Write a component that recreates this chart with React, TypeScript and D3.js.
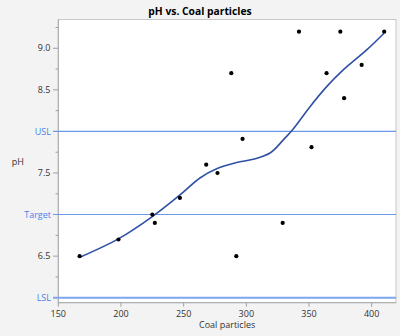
import React from "react";
import * as d3 from "d3";

const coal: number[] = [167, 198, 225, 227, 247, 268, 277, 288, 292, 297, 329, 342, 352, 364, 375, 378, 392, 410];
const ph: number[] = [6.5, 6.7, 7.0, 6.9, 7.2, 7.6, 7.5, 8.7, 6.5, 7.91, 6.9, 9.2, 7.81, 8.7, 9.2, 8.4, 8.8, 9.2];

const fitX: number[] = [167.3, 197.9, 225.0, 247.1, 263.0, 276.3, 292.3, 305.5, 318.9, 329.5, 337.4, 350.8, 364.1, 377.3, 396.0, 409.8];
const fitY: number[] = [6.487, 6.707, 6.975, 7.236, 7.44, 7.55, 7.625, 7.665, 7.74, 7.898, 8.03, 8.298, 8.539, 8.74, 8.98, 9.181];

const xTicks: number[] = [150, 200, 250, 300, 350, 400];
const yLabelTicks: number[] = [6.5, 7.5, 8.5, 9.0];
const yMinorTicks: number[] = [6.25, 6.75, 7.25, 7.75, 8.25, 8.75, 9.25];
const specNames: string[] = ["LSL", "Target", "USL"];
const specValues: number[] = [6.0, 7.0, 8.0];

const W = 400;
const H = 336;
const L = 58.3;
const R = 396;
const T = 19.5;
const B = 302.7;
const FONT = "'Open Sans', 'Noto Sans', sans-serif";

export default function App() {
  const x = d3.scaleLinear().domain([150, 419.4]).range([L, R]);
  const y = d3.scaleLinear().domain([5.94, 9.346]).range([B, T]);
  const fit = fitX.map((v, i) => [v, fitY[i]] as [number, number]);
  const line = d3
    .line<[number, number]>()
    .x((d) => x(d[0]))
    .y((d) => y(d[1]))
    .curve(d3.curveCatmullRom.alpha(0.5));

  return (
    <svg width={W} height={H} style={{ position: "absolute", left: 0, top: 0 }} fontFamily={FONT}>
      <rect x={0} y={0} width={W} height={H} fill="#f3f3f3" />
      <rect x={L} y={T} width={R - L} height={B - T} fill="#ffffff" stroke="#c8c8c8" strokeWidth={1} />
      <line x1={L} x2={L} y1={T} y2={B + 0.5} stroke="#a8a8a8" />
      <line x1={L} x2={R} y1={B} y2={B} stroke="#a8a8a8" />

      {specValues.map((v, i) => (
        <g key={specNames[i]}>
          <line
            x1={53}
            x2={R}
            y1={y(v)}
            y2={y(v)}
            stroke={i === 0 ? "#7ea6ee" : "#6a97e8"}
            strokeWidth={i === 0 ? 2 : 1.1}
          />
          <text x={51} y={y(v) + 3.2} textAnchor="end" fontSize={9} fill="#4a80ec">
            {specNames[i]}
          </text>
        </g>
      ))}

      {yLabelTicks.map((v) => (
        <g key={v}>
          <line x1={53} x2={L} y1={y(v)} y2={y(v)} stroke="#a0a0a0" />
          <text x={50.5} y={y(v) + 3.2} textAnchor="end" fontSize={9} fill="#333333">
            {v.toFixed(1)}
          </text>
        </g>
      ))}
      {yMinorTicks.map((v) => (
        <line key={v} x1={55.5} x2={L} y1={y(v)} y2={y(v)} stroke="#a0a0a0" />
      ))}

      {xTicks.map((v) => (
        <g key={v}>
          <line x1={x(v)} x2={x(v)} y1={B} y2={B + 4} stroke="#a0a0a0" />
          <text x={x(v)} y={316.5} textAnchor="middle" fontSize={9} fill="#333333">
            {v}
          </text>
        </g>
      ))}

      <path d={line(fit) || ""} fill="none" stroke="#3050a6" strokeWidth={1.6} />

      {coal.map((v, i) => (
        <circle key={i} cx={x(v)} cy={y(ph[i])} r={2.1} fill="#000000" />
      ))}

      <text x={200} y={15} textAnchor="middle" fontSize={10.3} fontWeight="bold" fill="#000000">
        pH vs. Coal particles
      </text>
      <text x={11.7} y={164.5} fontSize={9} fill="#333333">
        pH
      </text>
      <text x={(L + R) / 2} y={328} textAnchor="middle" fontSize={9} fill="#333333">
        Coal particles
      </text>
    </svg>
  );
}
